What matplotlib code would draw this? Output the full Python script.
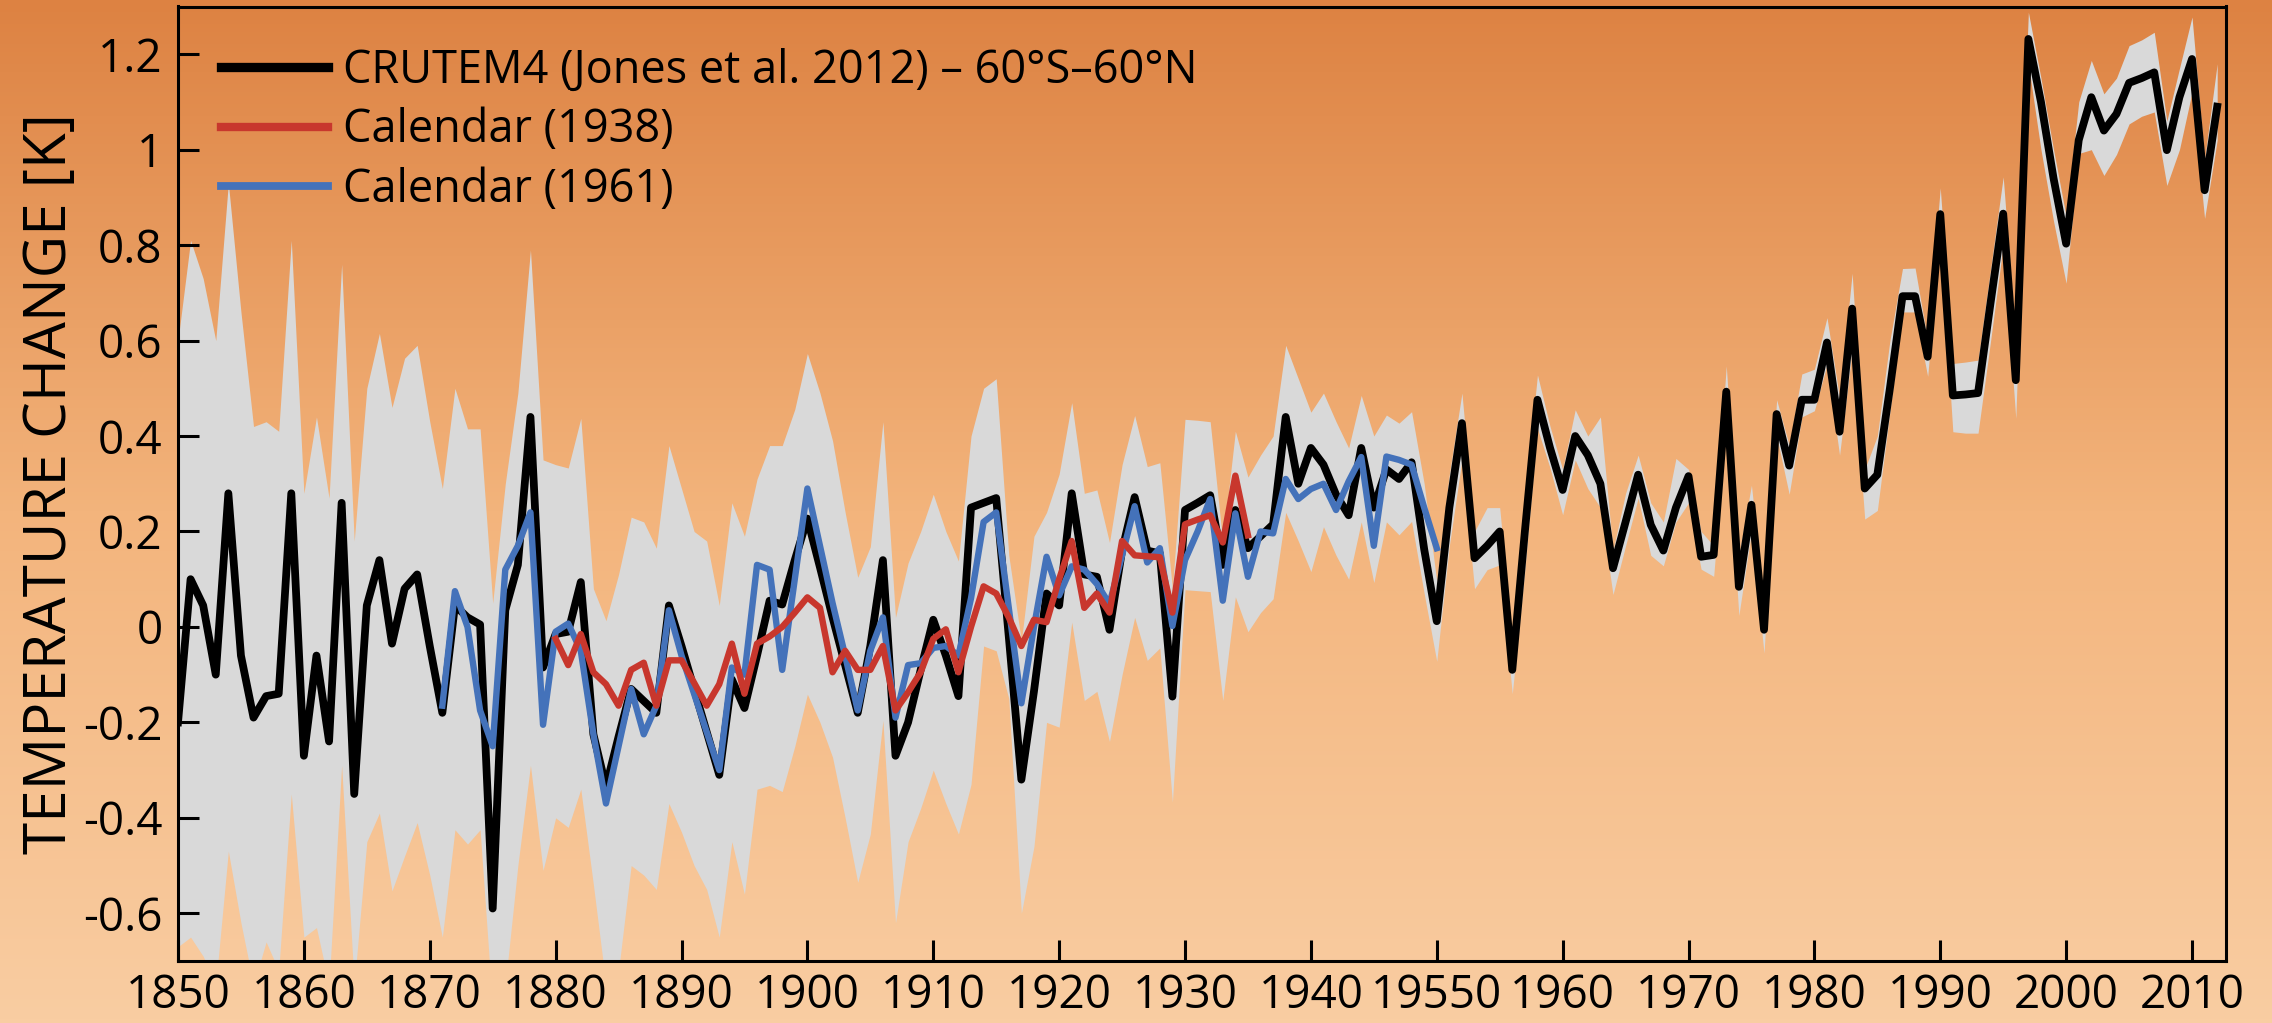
import numpy as np
import matplotlib
matplotlib.use("Agg")
import matplotlib.pyplot as plt
from matplotlib.colors import LinearSegmentedColormap

plt.rcParams['font.family'] = ['Open Sans', 'DejaVu Sans']

# CRUTEM4 60S-60N annual anomaly [K], 1850-2012
crutem_years = list(range(1850, 2013))
crutem = [
    -0.20, 0.10, 0.045, -0.10, 0.28, -0.06, -0.19, -0.145, -0.14, 0.28,      # 1850s
    -0.27, -0.06, -0.24, 0.26, -0.35, 0.045, 0.14, -0.035, 0.08, 0.11,       # 1860s
    -0.04, -0.18, 0.045, 0.02, 0.005, -0.59, 0.035, 0.13, 0.44, -0.085,      # 1870s
    -0.015, -0.01, 0.094, -0.225, -0.335, -0.23, -0.13, -0.155, -0.18, 0.045,  # 1880s
    -0.04, -0.13, -0.22, -0.31, -0.11, -0.17, -0.06, 0.055, 0.047, 0.14,     # 1890s
    0.227, 0.125, 0.02, -0.08, -0.18, -0.04, 0.14, -0.27, -0.20, -0.09,      # 1900s
    0.015, -0.06, -0.145, 0.25, 0.26, 0.27, -0.02, -0.32, -0.135, 0.07,      # 1910s
    0.045, 0.28, 0.11, 0.105, -0.006, 0.16, 0.272, 0.16, 0.154, -0.146,      # 1920s
    0.245, 0.26, 0.276, 0.13, 0.245, 0.165, 0.19, 0.215, 0.44, 0.30,         # 1930s
    0.375, 0.34, 0.277, 0.234, 0.375, 0.25, 0.33, 0.31, 0.345, 0.163,        # 1940s
    0.012, 0.25, 0.427, 0.144, 0.17, 0.20, -0.09, 0.20, 0.476, 0.375,        # 1950s
    0.287, 0.40, 0.36, 0.30, 0.123, 0.22, 0.319, 0.214, 0.16, 0.25,          # 1960s
    0.316, 0.147, 0.151, 0.493, 0.084, 0.256, -0.006, 0.446, 0.338, 0.476,   # 1970s
    0.476, 0.596, 0.409, 0.667, 0.29, 0.319, 0.50, 0.693, 0.693, 0.566,      # 1980s
    0.865, 0.485, 0.487, 0.49, 0.68, 0.866, 0.517, 1.232, 1.10, 0.94,        # 1990s
    0.803, 1.02, 1.11, 1.04, 1.075, 1.14, 1.15, 1.162, 0.999, 1.11,          # 2000s
    1.19, 0.915, 1.09,                                                       # 2010-2012
]
crutem_upper = [
    0.60, 0.81, 0.73, 0.60, 0.93, 0.66, 0.42, 0.43, 0.41, 0.81,
    0.28, 0.44, 0.27, 0.76, 0.18, 0.50, 0.615, 0.46, 0.563, 0.59,
    0.43, 0.29, 0.50, 0.415, 0.415, 0.05, 0.30, 0.49, 0.79, 0.35,
    0.34, 0.333, 0.437, 0.08, 0.013, 0.11, 0.23, 0.22, 0.165, 0.38,
    0.29, 0.20, 0.18, 0.045, 0.26, 0.19, 0.31, 0.38, 0.38, 0.456,
    0.573, 0.49, 0.39, 0.24, 0.104, 0.168, 0.43, 0.02, 0.134, 0.20,
    0.278, 0.20, 0.138, 0.40, 0.50, 0.52, 0.15, -0.03, 0.19, 0.24,
    0.32, 0.47, 0.28, 0.287, 0.177, 0.34, 0.443, 0.336, 0.344, 0.08,
    0.435, 0.433, 0.43, 0.177, 0.41, 0.314, 0.36, 0.40, 0.59, 0.52,
    0.45, 0.49, 0.43, 0.375, 0.485, 0.40, 0.444, 0.427, 0.451, 0.30,
    0.095, 0.32, 0.49, 0.20, 0.25, 0.25, -0.03, 0.27, 0.528, 0.42,
    0.33, 0.455, 0.40, 0.44, 0.16, 0.28, 0.36, 0.26, 0.22, 0.353,
    0.33, 0.20, 0.17, 0.547, 0.15, 0.297, 0.05, 0.476, 0.38, 0.53,
    0.54, 0.648, 0.48, 0.741, 0.33, 0.40, 0.60, 0.751, 0.752, 0.60,
    0.92, 0.552, 0.555, 0.559, 0.75, 0.943, 0.60, 1.288, 1.15, 1.00,
    0.86, 1.10, 1.187, 1.117, 1.15, 1.218, 1.23, 1.246, 1.06, 1.17,
    1.278, 0.98, 1.18,
]
crutem_lower = [
    -0.67, -0.65, -0.69, -0.75, -0.47, -0.62, -0.75, -0.66, -0.72, -0.35,
    -0.65, -0.63, -0.75, -0.29, -0.75, -0.45, -0.39, -0.553, -0.48, -0.41,
    -0.52, -0.65, -0.425, -0.455, -0.425, -0.80, -0.75, -0.50, -0.29, -0.51,
    -0.40, -0.42, -0.34, -0.54, -0.75, -0.72, -0.50, -0.52, -0.55, -0.37,
    -0.43, -0.50, -0.55, -0.65, -0.45, -0.56, -0.34, -0.332, -0.345, -0.25,
    -0.141, -0.20, -0.273, -0.40, -0.535, -0.434, -0.196, -0.62, -0.45, -0.38,
    -0.30, -0.37, -0.434, -0.33, -0.04, -0.05, -0.15, -0.60, -0.46, -0.20,
    -0.21, 0.01, -0.154, -0.135, -0.24, -0.10, 0.02, -0.07, -0.044, -0.367,
    0.078, 0.076, 0.074, -0.154, 0.063, -0.01, 0.03, 0.059, 0.24, 0.18,
    0.116, 0.21, 0.15, 0.10, 0.22, 0.093, 0.22, 0.193, 0.221, 0.07,
    -0.072, 0.17, 0.35, 0.08, 0.12, 0.13, -0.14, 0.12, 0.416, 0.333,
    0.235, 0.35, 0.29, 0.25, 0.068, 0.17, 0.27, 0.15, 0.128, 0.22,
    0.26, 0.121, 0.106, 0.43, 0.024, 0.20, -0.055, 0.40, 0.278, 0.44,
    0.453, 0.55, 0.36, 0.58, 0.226, 0.244, 0.45, 0.66, 0.66, 0.525,
    0.82, 0.409, 0.406, 0.406, 0.60, 0.80, 0.437, 1.18, 1.00, 0.85,
    0.72, 0.992, 1.00, 0.946, 0.99, 1.054, 1.07, 1.079, 0.925, 1.00,
    1.12, 0.856, 1.02,
]

# Callendar (1938), 1880-1935
cal1938_years = list(range(1880, 1936))
cal1938 = [
    -0.025, -0.08, -0.015, -0.095, -0.12, -0.165, -0.09, -0.075, -0.165, -0.07,
    -0.07, -0.117, -0.165, -0.12, -0.035, -0.14, -0.035, -0.02, 0.0, 0.03,
    0.062, 0.04, -0.095, -0.05, -0.09, -0.09, -0.04, -0.175, -0.137, -0.095,
    -0.025, -0.005, -0.095, 0.0, 0.085, 0.07, 0.02, -0.04, 0.015, 0.01,
    0.10, 0.18, 0.04, 0.07, 0.03, 0.18, 0.15, 0.148, 0.146, 0.03,
    0.215, 0.225, 0.234, 0.177, 0.317, 0.192,
]

# Callendar (1961), 1871-1950
cal1961_years = list(range(1871, 1951))
cal1961 = [
    -0.165, 0.075, 0.0, -0.175, -0.25, 0.12, 0.17, 0.24, -0.205,
    -0.01, 0.007, -0.05, -0.225, -0.37, -0.25, -0.13, -0.225, -0.165, 0.035,
    -0.06, -0.14, -0.22, -0.30, -0.085, -0.10, 0.13, 0.12, -0.09, 0.10,
    0.29, 0.17, 0.05, -0.06, -0.175, -0.05, 0.02, -0.19, -0.08, -0.076,
    -0.044, -0.04, -0.06, 0.06, 0.22, 0.24, 0.04, -0.16, 0.0, 0.147,
    0.066, 0.127, 0.12, 0.09, 0.048, 0.15, 0.253, 0.135, 0.165, 0.002,
    0.14, 0.20, 0.268, 0.055, 0.238, 0.105, 0.20, 0.196, 0.31, 0.268,
    0.289, 0.30, 0.245, 0.305, 0.356, 0.17, 0.357, 0.35, 0.34, 0.25,
    0.165,
]

xticks = list(range(1850, 2011, 10))
xtick_labels = [str(y) for y in xticks]
xtick_labels[xticks.index(1950)] = "19550"
yticks = [1.2, 1.0, 0.8, 0.6, 0.4, 0.2, 0.0, -0.2, -0.4, -0.6]
ytick_labels = ["1.2", "1", "0.8", "0.6", "0.4", "0.2", "0", "-0.2", "-0.4", "-0.6"]

W, H = 2272, 1023
fig = plt.figure(figsize=(W / 100, H / 100), dpi=100)

# orange vertical gradient behind everything
bg = fig.add_axes([0, 0, 1, 1], zorder=0)
grad_cmap = LinearSegmentedColormap.from_list("bg", ["#DD8242", "#F3B47C", "#F9CDA2"])
bg.imshow(np.linspace(0, 1, 256).reshape(-1, 1), cmap=grad_cmap, aspect="auto",
          extent=[0, 1, 0, 1], origin="upper")
bg.axis("off")

ax = fig.add_axes([178 / W, 62 / H, 2048 / W, 954.5 / H], zorder=1)
ax.patch.set_alpha(0)

ax.fill_between(crutem_years, crutem_lower, crutem_upper, color="#D9D9D9", lw=0, zorder=1)
ax.plot(crutem_years, crutem, color="black", lw=5.6, solid_joinstyle="round",
        label="CRUTEM4 (Jones et al. 2012) \u2013 60\u00b0S\u201360\u00b0N", zorder=3)
ax.plot(cal1938_years, cal1938, color="#C8372D", lw=4.6, solid_joinstyle="round",
        label="Calendar (1938)", zorder=5)
ax.plot(cal1961_years, cal1961, color="#4472BA", lw=4.6, solid_joinstyle="round",
        label="Calendar (1961)", zorder=4)

ax.set_xlim(1850, 2012.7)
ax.set_ylim(-0.7, 1.3)
ax.set_xticks(xticks)
ax.set_xticklabels(xtick_labels)
ax.set_yticks(yticks)
ax.set_yticklabels(ytick_labels)
ax.tick_params(direction="in", length=15, width=2.2, labelsize=33, color="black")
ax.tick_params(axis="x", pad=9)
ax.tick_params(axis="y", pad=11)
for s in ax.spines.values():
    s.set_linewidth(2.2)
ax.set_ylabel("TEMPERATURE CHANGE [K]", fontsize=42)
ax.yaxis.set_label_coords(-0.048, 0.5)

leg = ax.legend(loc="upper left", bbox_to_anchor=(0.008, 0.985), frameon=False,
                fontsize=32.5, handlelength=2.35, handletextpad=0.35, labelspacing=0.3,
                borderaxespad=0.2)
for line, w in zip(leg.get_lines(), [6.7, 6.0, 5.6]):
    line.set_linewidth(w)

fig.savefig("out.png", dpi=100)
